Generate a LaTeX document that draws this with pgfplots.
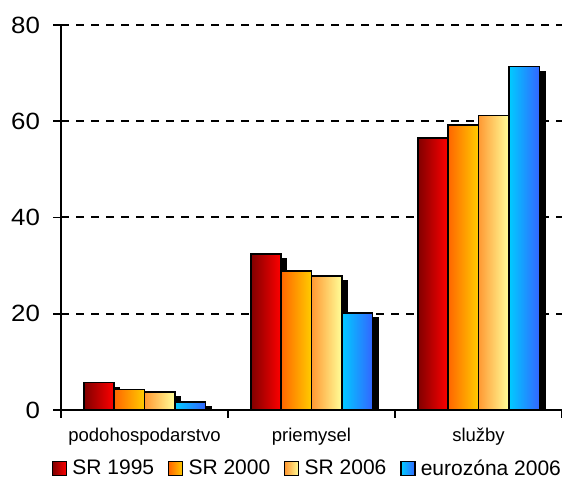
\documentclass[border=0pt]{standalone}
\usepackage{pgfplots}
\pgfplotsset{compat=1.18}
\usepackage{fontspec}
\setmainfont{Liberation Sans}
\newfontfamily\ytfont[FakeStretch=1.1]{Liberation Sans}

\definecolor{redL}{RGB}{128,0,0}
\definecolor{redR}{RGB}{255,0,0}
\definecolor{orL}{RGB}{255,102,0}
\definecolor{orR}{RGB}{255,204,0}
\definecolor{ylL}{RGB}{255,153,51}
\definecolor{ylR}{RGB}{255,255,153}
\definecolor{blL}{RGB}{0,204,255}
\definecolor{blR}{RGB}{51,102,255}

\pgfplotsset{
  barbase/.style={draw=black,line width=1.6pt},
  sA/.style={barbase,left color=redL,right color=redR},
  sB/.style={barbase,left color=orL,right color=orR},
  sC/.style={barbase,left color=ylL,right color=ylR},
  sD/.style={barbase,left color=blL,right color=blR},
  shadow/.style={forget plot,draw=black,fill=black,line width=1.6pt,
    transform canvas={yshift=-5pt}},
  mylegend/.style={legend image code/.code={%
    \draw[##1,line width=1.2pt] (0pt,-7pt) rectangle (14pt,7pt);
    \path (17pt,0pt);}},
}

\begin{document}
\begin{tikzpicture}
\useasboundingbox (0,0) rectangle (562pt,479pt);
\begin{axis}[
  at={(61pt,69pt)}, anchor=south west,
  scale only axis, width=501pt, height=385pt,
  ybar=0pt, bar width=30.4pt,
  xmin=-0.5, xmax=2.5, ymin=0, ymax=80,
  axis x line*=bottom, axis y line*=left,
  axis line style={line width=1.6pt,-},
  xtick={-0.5,0.5,1.5,2.5},
  x tick label as interval,
  xticklabels={podohospodarstvo,priemysel,služby},
  ytick={0,20,40,60,80},
  tick align=outside, major tick length=7.5pt,
  tick style={black,line width=1.6pt},
  ymajorgrids,
  grid style={black,line width=2pt,dash pattern=on 8pt off 7pt},
  /pgf/number format/assume math mode=true,
  yticklabel style={font=\ytfont\fontsize{23.5}{28}\selectfont,xshift=-10pt},
  xticklabel style={font=\fontsize{18.5}{22}\selectfont,yshift=-7pt},
  legend columns=4,
  legend style={draw=none, at={(0.492,-0.151)}, anchor=center,
    font=\fontsize{21}{24}\selectfont, inner ysep=0pt,
    nodes={inner ysep=0.5pt},
    /tikz/every even column/.append style={column sep=12pt}},
]
% shadows (drawn first, offset right and down)
\addplot[shadow,bar shift=-40.1pt] coordinates {(0,5.7) (1,32.4) (2,56.5)};
\addplot[shadow,bar shift=-9.7pt]  coordinates {(0,4.3) (1,28.9) (2,59.2)};
\addplot[shadow,bar shift=20.7pt]  coordinates {(0,3.7) (1,27.9) (2,61.2)};
\addplot[shadow,bar shift=51.1pt]  coordinates {(0,1.7) (1,20.1) (2,71.4)};
% SR 1995
\addplot[forget plot,sA,bar shift=-45.6pt] coordinates {(0,5.7)};
\addplot[forget plot,sA,bar shift=-45.6pt] coordinates {(1,32.4)};
\addplot[forget plot,sA,bar shift=-45.6pt] coordinates {(2,56.5)};
% SR 2000
\addplot[forget plot,sB,bar shift=-15.2pt] coordinates {(0,4.3)};
\addplot[forget plot,sB,bar shift=-15.2pt] coordinates {(1,28.9)};
\addplot[forget plot,sB,bar shift=-15.2pt] coordinates {(2,59.2)};
% SR 2006
\addplot[forget plot,sC,bar shift=15.2pt] coordinates {(0,3.7)};
\addplot[forget plot,sC,bar shift=15.2pt] coordinates {(1,27.9)};
\addplot[forget plot,sC,bar shift=15.2pt] coordinates {(2,61.2)};
% eurozona 2006
\addplot[forget plot,sD,bar shift=45.6pt] coordinates {(0,1.7)};
\addplot[forget plot,sD,bar shift=45.6pt] coordinates {(1,20.1)};
\addplot[forget plot,sD,bar shift=45.6pt] coordinates {(2,71.4)};
\addlegendimage{sA,mylegend}
\addlegendimage{sB,mylegend}
\addlegendimage{sC,mylegend}
\addlegendimage{sD,mylegend}
\legend{SR 1995,SR 2000,SR 2006,eurozóna 2006}
\end{axis}
\end{tikzpicture}
\end{document}
